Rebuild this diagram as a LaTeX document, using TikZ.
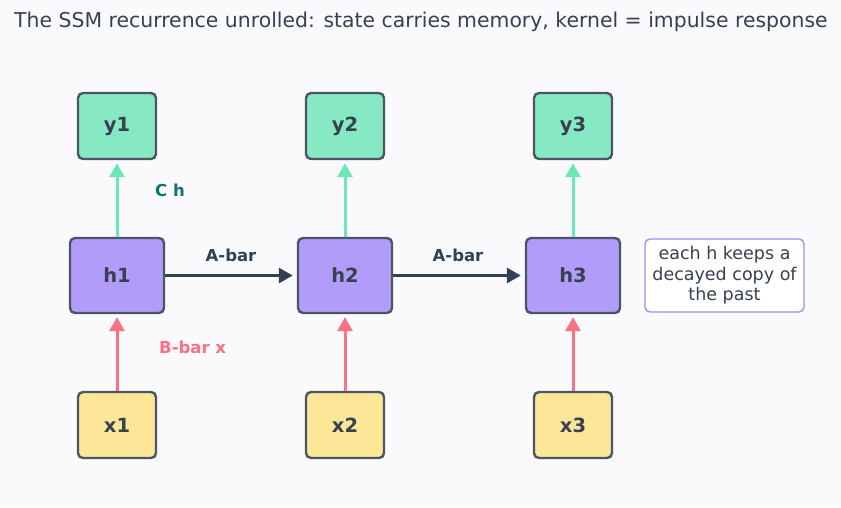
\documentclass[tikz,border=0pt]{standalone}
\usepackage{fontspec}
\setmainfont{DejaVu Sans}
\usetikzlibrary{arrows.meta}

\definecolor{bgcol}{HTML}{FAFAFD}
\definecolor{inkcol}{HTML}{374151}
\definecolor{ycol}{HTML}{86E9C3}
\definecolor{hcol}{HTML}{B19CFA}
\definecolor{xcol}{HTML}{FCE698}
\definecolor{edgecol}{HTML}{4B5563}
\definecolor{mintcol}{HTML}{6EE7B7}
\definecolor{pinkcol}{HTML}{F87185}
\definecolor{darkcol}{HTML}{334155}
\definecolor{tealcol}{HTML}{0F766E}
\definecolor{notecol}{HTML}{A48CF0}

\begin{document}
\begin{tikzpicture}[x=1pt,y=-1pt,
    box/.style={draw=edgecol, line width=2.4pt, rounded corners=5pt,
        text=inkcol, font=\fontsize{19.5}{22}\selectfont\bfseries},
    ynode/.style={box, fill=ycol, minimum width=78pt, minimum height=66pt},
    xnode/.style={box, fill=xcol, minimum width=78pt, minimum height=66pt},
    hnode/.style={box, fill=hcol, minimum width=94pt, minimum height=75pt},
    note/.style={draw=notecol, fill=white, line width=1.4pt, rounded corners=5pt,
        minimum width=159pt, minimum height=73pt, align=center, text=inkcol,
        inner sep=2pt, font=\fontsize{17.5}{20.5}\selectfont},
    arr/.style={line width=3pt, -{Triangle[length=14pt,width=15pt]}},
    lbl/.style={font=\fontsize{16.5}{19}\selectfont\bfseries}
]

% Background and bounding box
\fill[bgcol] (0,0) rectangle (841,507);
\useasboundingbox (0,0) rectangle (841,507);

% Title
\node[anchor=west, inner sep=0pt, text=inkcol, font=\fontsize{20.4}{24}\selectfont]
    (title) at (14,22) {The SSM recurrence unrolled: state carries memory, kernel = impulse response};

% Column positions
\def\colA{117}
\def\colB{345}
\def\colC{573}

% Nodes
\foreach \i/\cx in {1/\colA, 2/\colB, 3/\colC} {
    \node[ynode] (y\i) at (\cx,126) {y\i};
    \node[hnode] (h\i) at (\cx,275.5) {h\i};
    \node[xnode] (x\i) at (\cx,425) {x\i};
}

% Side note
\node[note] (note) at (724.5,275.5) {each h keeps a\\decayed copy of\\the past};

% Vertical arrows
\foreach \i in {1,2,3} {
    \draw[arr, mintcol, shorten >=3pt] (h\i.north) -- (y\i.south);
    \draw[arr, pinkcol, shorten >=3pt] (x\i.north) -- (h\i.south);
}

% Recurrence arrows
\draw[arr, darkcol, shorten >=4pt] (h1.east) -- (h2.west);
\draw[arr, darkcol, shorten >=4pt] (h2.east) -- (h3.west);

% Labels
\node[lbl, text=darkcol] (a1) at (231,255) {A-bar};
\node[lbl, text=darkcol] (a2) at (458,255) {A-bar};
\node[lbl, text=tealcol, anchor=west, inner sep=0pt] (ch) at (155,190) {C h};
\node[lbl, text=pinkcol, anchor=west, inner sep=0pt] (bx) at (159,347) {B-bar x};

\end{tikzpicture}
\end{document}
